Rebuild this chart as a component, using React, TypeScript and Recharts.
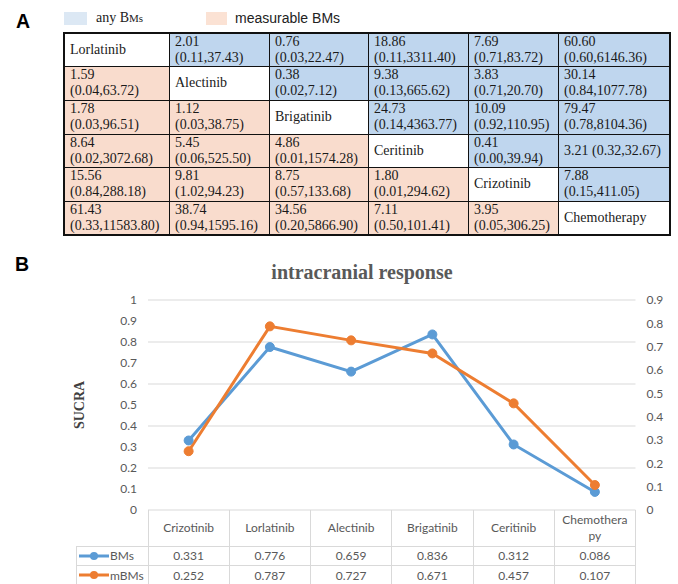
import React from "react";
import { ComposedChart, Line, XAxis, YAxis, CartesianGrid } from "recharts";

// panel A: league table
const drugsA = ["Lorlatinib", "Alectinib", "Brigatinib", "Ceritinib", "Crizotinib", "Chemotherapy"];
const rowLorlatinib = ["", "2.01|(0.11,37.43)", "0.76|(0.03,22.47)", "18.86|(0.11,3311.40)", "7.69|(0.71,83.72)", "60.60|(0.60,6146.36)"];
const rowAlectinib = ["1.59|(0.04,63.72)", "", "0.38|(0.02,7.12)", "9.38|(0.13,665.62)", "3.83|(0.71,20.70)", "30.14|(0.84,1077.78)"];
const rowBrigatinib = ["1.78|(0.03,96.51)", "1.12|(0.03,38.75)", "", "24.73|(0.14,4363.77)", "10.09|(0.92,110.95)", "79.47|(0.78,8104.36)"];
const rowCeritinib = ["8.64|(0.02,3072.68)", "5.45|(0.06,525.50)", "4.86|(0.01,1574.28)", "", "0.41|(0.00,39.94)", "3.21 (0.32,32.67)"];
const rowCrizotinib = ["15.56|(0.84,288.18)", "9.81|(1.02,94.23)", "8.75|(0.57,133.68)", "1.80|(0.01,294.62)", "", "7.88|(0.15,411.05)"];
const rowChemo = ["61.43|(0.33,11583.80)", "38.74|(0.94,1595.16)", "34.56|(0.20,5866.90)", "7.11|(0.50,101.41)", "3.95|(0.05,306.25)", ""];
const leagueRows = [rowLorlatinib, rowAlectinib, rowBrigatinib, rowCeritinib, rowCrizotinib, rowChemo];

// panel B: SUCRA
const categories = ["Crizotinib", "Lorlatinib", "Alectinib", "Brigatinib", "Ceritinib", "Chemotherapy"];
const headerLabels = ["Crizotinib", "Lorlatinib", "Alectinib", "Brigatinib", "Ceritinib", "Chemothera|py"];
const bmsValues = [0.331, 0.776, 0.659, 0.836, 0.312, 0.086];
const mbmsValues = [0.252, 0.787, 0.727, 0.671, 0.457, 0.107];
const leftTicks = [0, 0.1, 0.2, 0.3, 0.4, 0.5, 0.6, 0.7, 0.8, 0.9, 1];
const rightTicks = [0, 0.1, 0.2, 0.3, 0.4, 0.5, 0.6, 0.7, 0.8, 0.9];

const BLUE = "#5b9bd5";
const ORANGE = "#ed7d31";
const GRAY = "#595959";
const GRID = "#d9d9d9";

const colX = [64, 169, 269, 368, 468, 558, 670];
const rowY = [33, 66.7, 100.3, 134, 167.7, 201.3, 235];

const plotLeft = 148;
const plotRight = 635.5;
const colW = (plotRight - plotLeft) / categories.length;

const data = categories.map((name, i) => ({ name, bms: bmsValues[i], mbms: mbmsValues[i] }));

function LeagueTable() {
    const cells: React.ReactNode[] = [];
    leagueRows.forEach((row, r) => {
        row.forEach((txt, c) => {
            const isDiag = r === c;
            const bg = isDiag ? "#fff" : c > r ? "#bfd6ee" : "#f9dccd";
            const lines = isDiag ? [drugsA[r]] : txt.split("|");
            cells.push(
                <div
                    key={`${r}-${c}`}
                    style={{
                        position: "absolute",
                        left: colX[c],
                        top: rowY[r],
                        width: colX[c + 1] - colX[c],
                        height: rowY[r + 1] - rowY[r],
                        background: bg,
                        display: "flex",
                        flexDirection: "column",
                        justifyContent: "center",
                        paddingLeft: 6,
                        boxSizing: "border-box",
                        fontFamily: "'Liberation Serif', serif",
                        fontSize: 14,
                        lineHeight: "16px",
                        color: "#1a1a1a",
                        whiteSpace: "nowrap",
                    }}
                >
                    {lines.map((l, k) => (
                        <div key={k}>{l}</div>
                    ))}
                </div>
            );
        });
    });
    const lines: React.ReactNode[] = [];
    colX.forEach((x, i) => {
        const outer = i === 0 || i === colX.length - 1;
        lines.push(
            <div key={"v" + i} style={{ position: "absolute", left: x - (outer ? 1 : 0.5), top: rowY[0] - 1, width: outer ? 2 : 1, height: rowY[6] - rowY[0] + 2, background: "#111" }} />
        );
    });
    rowY.forEach((y, i) => {
        const outer = i === 0 || i === rowY.length - 1;
        lines.push(
            <div key={"h" + i} style={{ position: "absolute", left: colX[0] - 1, top: y - (outer ? 1 : 0.5), width: colX[6] - colX[0] + 2, height: outer ? 2 : 1, background: "#111" }} />
        );
    });
    return (
        <>
            {cells}
            {lines}
        </>
    );
}

function DataTable() {
    const els: React.ReactNode[] = [];
    const top = 510;
    const r1 = 546;
    const r2 = 565.5;
    const r3 = 585;
    const textStyle: React.CSSProperties = {
        position: "absolute",
        fontFamily: "Lato, sans-serif",
        fontSize: 12,
        color: GRAY,
        textAlign: "center",
        lineHeight: "16px",
    };
    headerLabels.forEach((lab, i) => {
        const x = plotLeft + i * colW;
        const parts = lab.split("|");
        els.push(
            <div key={"hd" + i} style={{ ...textStyle, left: x, width: colW, top: top, height: r1 - top, display: "flex", flexDirection: "column", justifyContent: "center" }}>
                {parts.map((p, k) => (
                    <div key={k}>{p}</div>
                ))}
            </div>
        );
        els.push(
            <div key={"b" + i} style={{ ...textStyle, left: x, width: colW, top: r1, height: r2 - r1, lineHeight: `${r2 - r1}px` }}>
                {bmsValues[i].toFixed(3)}
            </div>
        );
        els.push(
            <div key={"m" + i} style={{ ...textStyle, left: x, width: colW, top: r2, height: r3 - r2, lineHeight: `${r3 - r2}px` }}>
                {mbmsValues[i].toFixed(3)}
            </div>
        );
    });
    for (let i = 0; i <= categories.length; i++) {
        const x = plotLeft + i * colW;
        els.push(<div key={"vl" + i} style={{ position: "absolute", left: x - 0.5, top, width: 1, height: r3 - top, background: GRID }} />);
    }
    els.push(<div key="vl-left" style={{ position: "absolute", left: 76, top: r1, width: 1, height: r3 - r1, background: GRID }} />);
    [r1, r2].forEach((y, i) =>
        els.push(<div key={"hl" + i} style={{ position: "absolute", left: 76, top: y - 0.5, width: plotRight - 76, height: 1, background: GRID }} />)
    );
    const series = [
        { name: "BMs", color: BLUE, y0: r1, y1: r2 },
        { name: "mBMs", color: ORANGE, y0: r2, y1: r3 },
    ];
    series.forEach((s) => {
        const cy = (s.y0 + s.y1) / 2;
        els.push(
            <svg key={"lg" + s.name} width={32} height={12} style={{ position: "absolute", left: 78, top: cy - 6 }}>
                <line x1={1} y1={6} x2={31} y2={6} stroke={s.color} strokeWidth={3} />
                <circle cx={16} cy={6} r={4} fill={s.color} />
            </svg>
        );
        els.push(
            <div key={"lt" + s.name} style={{ ...textStyle, textAlign: "left", left: 110, top: s.y0, height: s.y1 - s.y0, lineHeight: `${s.y1 - s.y0}px` }}>
                {s.name}
            </div>
        );
    });
    return <>{els}</>;
}

export default function App() {
    return (
        <div style={{ position: "absolute", left: 0, top: 0, width: 678, height: 584, background: "#fff", overflow: "hidden" }}>
            {/* panel A */}
            <div style={{ position: "absolute", left: 16, top: 11, fontFamily: "'Liberation Sans', Arial, sans-serif", fontWeight: "bold", fontSize: 19.5, lineHeight: "20px" }}>A</div>
            <div style={{ position: "absolute", left: 64, top: 12, width: 23, height: 13, background: "#dce8f4" }} />
            <div style={{ position: "absolute", left: 96, top: 8, fontFamily: "'Liberation Serif', serif", fontSize: 14, lineHeight: "20px", color: "#222" }}>
                any B<span style={{ fontSize: 11 }}>Ms</span>
            </div>
            <div style={{ position: "absolute", left: 206, top: 12, width: 21, height: 13, background: "#fbe2d4" }} />
            <div style={{ position: "absolute", left: 235, top: 8, fontFamily: "'Liberation Sans', Arial, sans-serif", fontSize: 14, lineHeight: "20px", color: "#222" }}>
                measurable BMs
            </div>
            <LeagueTable />

            {/* panel B */}
            <div style={{ position: "absolute", left: 15, top: 254, fontFamily: "'Liberation Sans', Arial, sans-serif", fontWeight: "bold", fontSize: 19.5, lineHeight: "20px" }}>B</div>
            <div style={{ position: "absolute", left: 200, width: 324, top: 262, textAlign: "center", fontFamily: "'Liberation Serif', serif", fontWeight: "bold", fontSize: 20, lineHeight: "20px", color: GRAY }}>
                intracranial response
            </div>
            <div
                style={{
                    position: "absolute",
                    left: 80,
                    top: 405,
                    transform: "translate(-50%, -50%) rotate(-90deg)",
                    fontFamily: "'Liberation Serif', serif",
                    fontWeight: "bold",
                    fontSize: 14,
                    color: "#404040",
                    whiteSpace: "nowrap",
                }}
            >
                SUCRA
            </div>
            <div style={{ position: "absolute", left: 0, top: 250 }}>
                <ComposedChart width={678} height={334} data={data} margin={{ top: 50, right: 2.5, bottom: 74, left: 88 }}>
                    <CartesianGrid yAxisId="left" vertical={false} stroke={GRID} />
                    <XAxis dataKey="name" hide scale="band" />
                    <YAxis
                        yAxisId="left"
                        width={60}
                        domain={[0, 1]}
                        ticks={leftTicks}
                        axisLine={false}
                        tickLine={false}
                        tickSize={0}
                        tickMargin={11}
                        tick={{ fontFamily: "Lato, sans-serif", fontSize: 12, fill: GRAY }}
                    />
                    <YAxis
                        yAxisId="right"
                        orientation="right"
                        width={40}
                        domain={[0, 0.9]}
                        ticks={rightTicks}
                        axisLine={false}
                        tickLine={false}
                        tickSize={0}
                        tickMargin={11}
                        tick={{ fontFamily: "Lato, sans-serif", fontSize: 12, fill: GRAY }}
                    />
                    <Line
                        yAxisId="left"
                        dataKey="bms"
                        stroke={BLUE}
                        strokeWidth={3}
                        dot={{ r: 4.5, fill: BLUE, stroke: BLUE, strokeWidth: 1 }}
                        isAnimationActive={false}
                    />
                    <Line
                        yAxisId="right"
                        dataKey="mbms"
                        stroke={ORANGE}
                        strokeWidth={3}
                        dot={{ r: 4.5, fill: ORANGE, stroke: ORANGE, strokeWidth: 1 }}
                        isAnimationActive={false}
                    />
                </ComposedChart>
            </div>
            <DataTable />
        </div>
    );
}
